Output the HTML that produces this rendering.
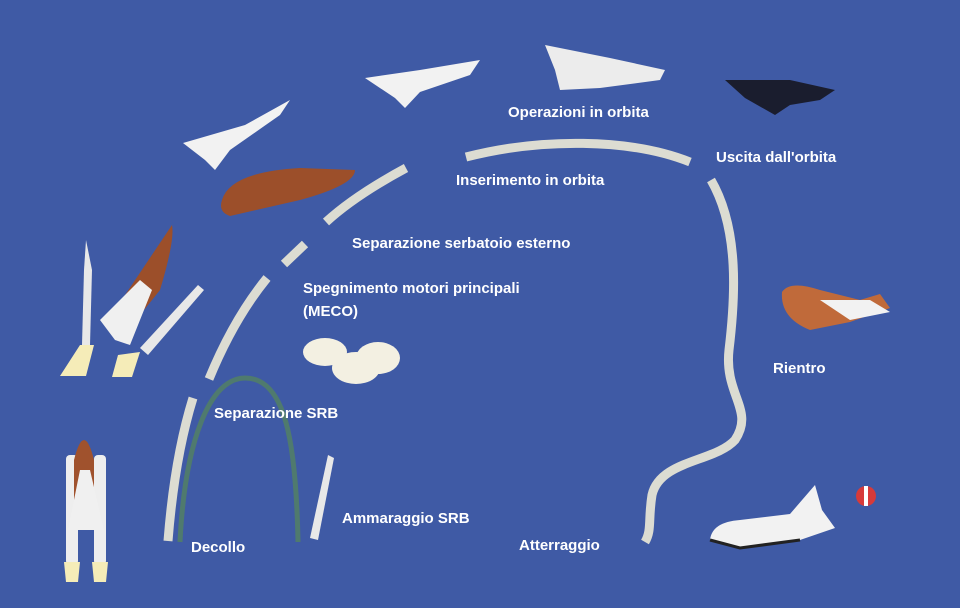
<!DOCTYPE html>
<html><head><meta charset="utf-8"><style>
html,body{margin:0;padding:0;background:#3f5aa5;}
svg{display:block}
text{font-family:"Liberation Sans",Arial,sans-serif;font-weight:bold;font-size:15px;fill:#fff}
</style></head><body>
<svg width="960" height="608" viewBox="0 0 960 608" xmlns="http://www.w3.org/2000/svg">
<rect width="960" height="608" fill="#3f5aa5"/>
<!-- green SRB arc -->
<path d="M180,542 C185,440 210,378 245,378 C285,378 296,440 298,542" fill="none" stroke="#4f7a6e" stroke-width="5"/>
<!-- trajectory segments -->
<g fill="none" stroke="#dcdcd2" stroke-width="9" stroke-linecap="butt">
<path d="M168,541 C172,490 180,440 193,398"/>
<path d="M209,379 C225,340 245,305 267,278"/>
<path d="M284,264 L305,244"/>
<path d="M326,222 C350,200 380,182 406,168"/>
<path d="M466,157 C540,138 630,138 690,162"/>
<path d="M711,180 C740,230 735,300 729,350 C724,395 755,410 735,440 C715,462 660,460 652,495 C648,520 652,530 645,542"/>
</g>
<!-- labels -->
<text x="508" y="117">Operazioni in orbita</text>
<text x="716" y="162">Uscita dall'orbita</text>
<text x="456" y="185">Inserimento in orbita</text>
<text x="352" y="248">Separazione serbatoio esterno</text>
<text x="303" y="293">Spegnimento motori principali</text>
<text x="303" y="316">(MECO)</text>
<text x="214" y="418">Separazione SRB</text>
<text x="342" y="523">Ammaraggio SRB</text>
<text x="191" y="552">Decollo</text>
<text x="519" y="550">Atterraggio</text>
<text x="773" y="373">Rientro</text>
<!-- launch pad stack -->
<g>
<rect x="66" y="455" width="12" height="110" rx="4" fill="#eee"/>
<rect x="94" y="455" width="12" height="110" rx="4" fill="#eee"/>
<path d="M74,460 Q84,420 94,460 L94,520 L74,520 Z" fill="#a0522d"/>
<path d="M80,470 L90,470 L104,530 L68,530 Z" fill="#f0f0f0"/>
<path d="M64,562 L80,562 L78,582 L66,582Z M92,562 L108,562 L106,582 L94,582Z" fill="#f5ecb8"/>
</g>
<!-- ascent group -->
<g>
<path d="M86,240 L92,270 L90,345 L82,345 L84,270 Z" fill="#e8e8e8"/>
<path d="M80,345 L94,345 L86,376 L60,376 Z" fill="#f5ecb8"/>
<path d="M172,225 Q175,240 160,290 L128,330 L115,310 Z" fill="#9c4f2a"/>
<path d="M140,280 L152,290 L130,345 L115,340 L100,320 Z" fill="#f0f0f0"/>
<path d="M198,285 L204,290 L148,355 L140,348 Z" fill="#e8e8e8"/>
<path d="M118,355 L140,352 L132,377 L112,377 Z" fill="#f5ecb8"/>
</g>
<!-- shuttle pieces -->
<path d="M183,143 L245,125 L290,100 L280,115 L230,150 L215,170 L205,160 Z" fill="#f2f2f2"/>
<path d="M222,200 Q230,172 300,168 L355,170 Q355,185 300,200 L230,216 Q218,212 222,200Z" fill="#9c4f2a"/>
<path d="M365,78 L420,70 L480,60 L470,75 L420,92 L405,108 L395,98 Z" fill="#f2f2f2"/>
<path d="M545,45 L610,58 L665,70 L660,80 L600,88 L560,90 L555,70 Z" fill="#ececec"/>
<path d="M725,80 L790,80 L835,90 L820,100 L790,105 L775,115 L745,98 Z" fill="#1a1d2e"/>
<path d="M782,292 Q790,280 820,290 L860,300 L880,294 L890,308 L850,322 L810,330 Q780,318 782,292Z" fill="#c06a3a"/>
<path d="M820,300 L870,300 L890,312 L850,320 Z" fill="#f2f2f2"/>
<!-- parachutes -->
<g fill="#f3f0e2">
<ellipse cx="325" cy="352" rx="22" ry="14"/>
<ellipse cx="378" cy="358" rx="22" ry="16"/>
<ellipse cx="356" cy="368" rx="24" ry="16"/>
</g>
<path d="M328,455 L334,458 L318,540 L310,538 Z" fill="#e8e8e8"/>
<!-- landing shuttle -->
<path d="M710,540 Q712,522 740,520 L790,514 L815,485 L822,510 L835,528 L800,540 L740,548 Z" fill="#f2f2f2"/>
<path d="M710,540 L740,548 L800,540" fill="none" stroke="#222" stroke-width="3"/>
<circle cx="866" cy="496" r="10" fill="#d73a3a"/>
<path d="M866,486 L866,506" stroke="#fff" stroke-width="4"/>
</svg>
</body></html>
